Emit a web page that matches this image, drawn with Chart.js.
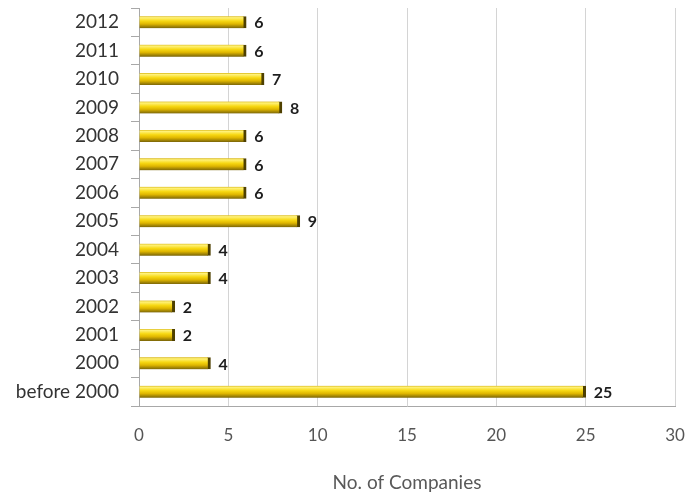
<!DOCTYPE html>
<html>
<head>
<meta charset="utf-8">
<script src="https://cdn.jsdelivr.net/npm/chart.js@4/dist/chart.umd.min.js"></script>
<style>
html,body{margin:0;padding:0;background:#fff;}
#wrap{width:686px;height:497px;position:relative;}
</style>
</head>
<body>
<div id="wrap"><canvas id="c" width="686" height="497"></canvas></div>
<script>
const categories = ["2012","2011","2010","2009","2008","2007","2006","2005","2004","2003","2002","2001","2000","before 2000"];
const companies = [6,6,7,8,6,6,6,9,4,4,2,2,4,25];
const xTicks = [0,5,10,15,20,25,30];
const xTitle = "No. of Companies";

const BAR_H = 12;
function barGradient(ctx){
  const chart = ctx.chart;
  const ys = chart.scales.y;
  if (!ys || ctx.dataIndex === undefined) return '#f0c800';
  const yc = ys.getPixelForValue(ctx.dataIndex);
  if (!isFinite(yc)) return '#f0c800';
  const g = chart.ctx.createLinearGradient(0, yc - BAR_H/2, 0, yc + BAR_H/2);
  g.addColorStop(0, '#d9b818');
  g.addColorStop(0.12, '#fff27a');
  g.addColorStop(0.4, '#f7d812');
  g.addColorStop(0.65, '#dfb600');
  g.addColorStop(1, '#7a6508');
  return g;
}

const labelPlugin = {
  id: 'valLabels',
  afterDatasetsDraw(chart){
    const c = chart.ctx;
    const meta = chart.getDatasetMeta(0);
    c.save();
    c.font = 'bold 16px Lato';
    c.fillStyle = '#1e1e1e';
    c.textAlign = 'left';
    c.textBaseline = 'middle';
    meta.data.forEach((el, i) => {
      c.fillText(String(chart.data.datasets[0].data[i]), el.x + 8, el.y + 1);
    });
    c.restore();
  }
};

new Chart(document.getElementById('c'), {
  type: 'bar',
  data: {
    labels: categories,
    datasets: [{
      data: companies,
      backgroundColor: barGradient,
      borderColor: '#4e4000',
      borderWidth: {left:0, top:0, bottom:0, right:3},
      borderSkipped: false,
      barThickness: BAR_H
    }]
  },
  options: {
    indexAxis: 'y',
    responsive: false,
    animation: false,
    layout: {autoPadding: false, padding: {left:0, right:11, top:8, bottom:0}},
    plugins: {legend: {display:false}, tooltip: {enabled:false}},
    scales: {
      x: {
        min: 0, max: 30,
        afterBuildTicks(s){ s.ticks = xTicks.map(v => ({value:v})); },
        afterFit(s){ s.height = 91; s.paddingLeft = 0; s.paddingRight = 0; },
        grid: {color:'#d4d4d4', lineWidth:1, drawTicks:false},
        border: {color:'#a8a8a8', width:1},
        ticks: {font:{family:'Lato', size:17}, color:'#555', padding:19},
        title: {display:true, text:xTitle, font:{family:'Lato', size:19}, color:'#595959', padding:{top:0, bottom:3}}
      },
      y: {
        afterFit(s){ s.width = 139; s.paddingTop = 0; s.paddingBottom = 0; },
        grid: {drawOnChartArea:false, drawTicks:true, tickLength:8, color:'#a8a8a8', offset:true},
        border: {color:'#a8a8a8', width:1},
        ticks: {font:{family:'Lato', size:19}, color:'#333', padding:12}
      }
    }
  },
  plugins: [labelPlugin]
});
</script>
</body>
</html>
